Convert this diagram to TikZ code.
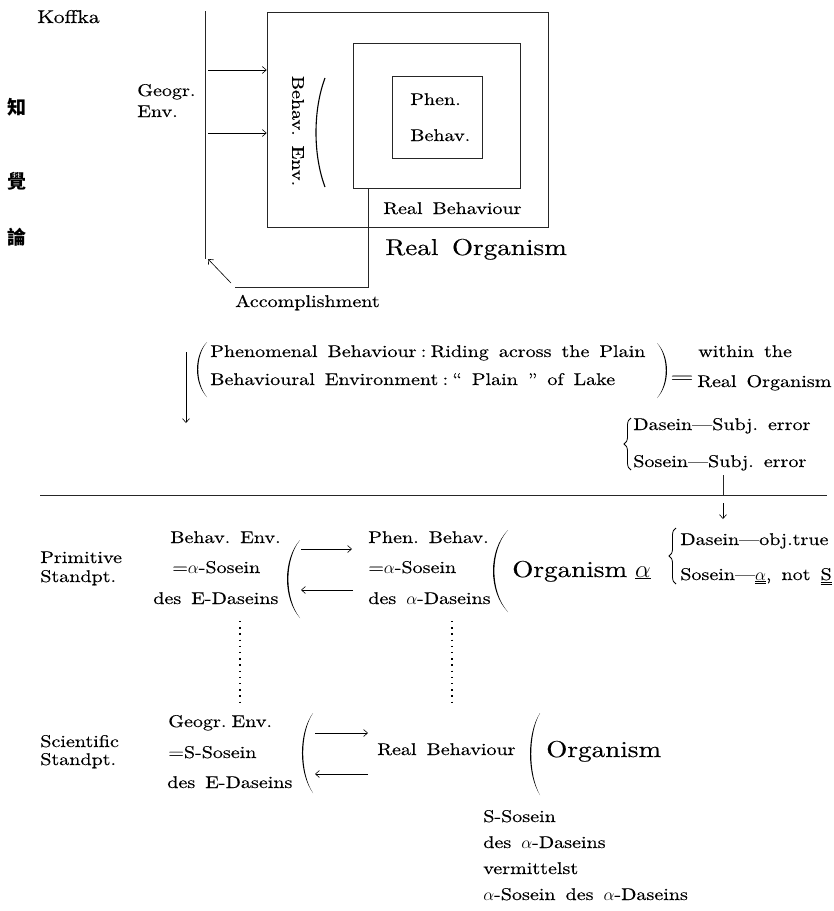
\documentclass[tikz,border=0pt]{standalone}
\usepackage{fontspec}
\usepackage{graphicx}
\setmainfont{lmroman10-regular}[Extension=.otf, FakeStretch=1.18, WordSpace=1.5, FakeBold=0.3]
\newfontfamily\cjk{Noto Sans CJK TC}
\usetikzlibrary{arrows.meta,decorations.pathreplacing}
% tapered parenthesis: x of ends, top y, bottom y, control x, inner offset
\newcommand{\mypar}[5]{\fill (#1,#2) .. controls (#4,{#2+0.25*(#3-#2)}) and (#4,{#3-0.25*(#3-#2)}) .. (#1,#3) .. controls ({#4+#5},{#3-0.25*(#3-#2)}) and ({#4+#5},{#2+0.25*(#3-#2)}) .. (#1,#2) -- cycle;}
\begin{document}
\begin{tikzpicture}[x=1pt,y=-1pt,
  line width=0.6pt,
  txt/.style={inner sep=0pt, anchor=base west, font=\fontsize{17}{20}\selectfont},
  big/.style={inner sep=0pt, anchor=base west, font=\fontsize{23}{26}\selectfont},
  kanji/.style={inner sep=0pt, anchor=center, font=\cjk\bfseries\fontsize{19}{22}\selectfont},
  arr/.style={-{Straight Barb[length=4pt,width=7pt]}, line width=0.6pt},
  rule/.style={line width=0.6pt, black!85},
  dots/.style={line width=1.3pt, dash pattern=on 1.3pt off 4.9pt},
  brc/.style={decorate, decoration={brace, amplitude=7pt}, line width=0.8pt}]
\useasboundingbox (0,0) rectangle (834,911);
\fill[white] (0,0) rectangle (834,911);

% ---------- top diagram ----------
\node[txt, font=\fontsize{18.5}{21}\selectfont] (koffka) at (37,23) {Koffka};
\node[kanji] (k1) at (17,107) {知};
\node[kanji] (k2) at (17,181) {覺};
\node[kanji] (k3) at (17,237) {論};

\coordinate (vtop) at (205,11);
\coordinate (vbot) at (205,259);
\draw[rule] (vtop) -- (vbot);

\node[txt] (geogr) at (137,96) {Geogr.};
\node[txt] (env) at (137,117) {Env.};

\node[draw, rule, minimum width=281pt, minimum height=215pt, inner sep=0pt] (outer) at (407.5,120) {};
\node[draw, rule, minimum width=167pt, minimum height=145pt, inner sep=0pt] (middle) at (436.5,116) {};
\node[draw, rule, minimum width=90pt, minimum height=82pt, inner sep=0pt] (inner) at (437,117) {};

\coordinate (a1s) at (208,70);
\coordinate (a2s) at (208,133);
\draw[arr] (a1s) -- (a1s -| outer.west);
\draw[arr] (a2s) -- (a2s -| outer.west);

\node[txt] (phen) at (410,105) {Phen.};
\node[txt] (behav) at (410,141) {Behav.};

\node[txt, anchor=center, rotate=-90] (behenv) at (298,131) {Behav.\ Env.};
\coordinate (arcT) at (325,78);
\coordinate (arcB) at (325,187);
\draw[line width=1.1pt] (arcT) .. controls (313,110) and (313,155) .. (arcB);

\node[txt] (realbeh) at (383,214) {Real Behaviour};
\node[big] (realorg) at (385,255) {Real Organism};

\coordinate (rbtop) at (middle.south -| 368,0);
\coordinate (corner) at (368,287);
\coordinate (hstart) at (235,287);
\draw[rule] (rbtop) -- (corner) -- (hstart);
\coordinate (acctail) at (231,283);
\coordinate (acchead) at (208,259);
\draw[arr] (acctail) -- (acchead);
\node[txt] (accomp) at (235,307) {Accomplishment};

% ---------- middle ----------
\coordinate (dtop) at (186,352);
\coordinate (dbot) at (186,423);
\draw[arr] (dtop) -- (dbot);

\mypar{207}{342}{397}{193.7}{1.6}
\node[txt] (phenom) at (210,357) {Phenomenal Behaviour\hspace{0.25em}:\hspace{0.25em}Riding across the Plain};
\node[txt] (behenvl) at (210,385) {Behavioural Environment\hspace{0.25em}:\hspace{0.25em}“ Plain ” of Lake};
\mypar{657}{343}{398}{670.3}{-1.6}
\node[txt] (eq) at (670,382) {\scalebox{1.5}[1]{=}};
\node[txt] (within) at (698,357) {within the};
\node[txt] (realorg2) at (697,387) {Real Organism};

\draw[brc] (631,470) -- (631,418);
\node[txt] (das1) at (633,430) {Dasein—Subj.\ error};
\node[txt] (sos1) at (633,467) {Sosein—Subj.\ error};

\coordinate (vs) at (723,475);
\coordinate (hl) at (40,495);
\coordinate (hr) at (827,495);
\draw[rule] (hl) -- (hr);
\draw[rule] (vs) -- (vs |- hl);
\coordinate (d2t) at (723,503);
\coordinate (d2b) at (723,519);
\draw[arr] (d2t) -- (d2b);

% ---------- primitive standpoint ----------
\node[txt] (prim) at (40,563) {Primitive};
\node[txt] (stand1) at (40,582) {Standpt.};

\node[txt] (be1) at (170,543) {Behav.\ Env.};
\node[txt] (be2) at (172,573) {=$\alpha$-Sosein};
\node[txt] (be3) at (153,604) {des E-Daseins};
\mypar{300}{540}{618}{282.7}{1.8}

\coordinate (r1a) at (301,549);
\coordinate (r1b) at (352,549);
\coordinate (l1a) at (353,590);
\coordinate (l1b) at (301,590);
\draw[arr] (r1a) -- (r1b);
\draw[arr] (l1a) -- (l1b);

\node[txt] (pb1) at (368,543) {Phen.\ Behav.};
\node[txt] (pb2) at (368,573) {=$\alpha$-Sosein};
\node[txt] (pb3) at (368,604) {des $\alpha$-Daseins};
\mypar{508}{530}{612}{488}{1.8}

\node[big] (org1) at (512,577) {Organism\hspace{0.35em}$\underline{\alpha}$};
\draw[brc] (676,584) -- (676,528);
\node[txt] (das2) at (680,545) {Dasein—obj.true};
\node[txt] (sos2) at (680,580) {Sosein—$\underline{\underline{\alpha}}$, not \underline{\underline{S}}};

\coordinate (dot1t) at (240,621);
\coordinate (dot1b) at (240,703);
\coordinate (dot2t) at (452,621);
\coordinate (dot2b) at (452,703);
\draw[dots] (dot1t) -- (dot1b);
\draw[dots] (dot2t) -- (dot2b);

% ---------- scientific standpoint ----------
\node[txt] (sci) at (40,747) {Scientific};
\node[txt] (stand2) at (40,765) {Standpt.};

\node[txt] (ge1) at (168,727) {Geogr.\hspace{0.3em}Env.};
\node[txt] (ge2) at (168,758) {=S-Sosein};
\node[txt] (ge3) at (167,788) {des E-Daseins};
\mypar{313}{713}{793}{298.3}{1.6}

\coordinate (r2a) at (315,733);
\coordinate (r2b) at (368,733);
\coordinate (l2a) at (368,774);
\coordinate (l2b) at (315,774);
\draw[arr] (r2a) -- (r2b);
\draw[arr] (l2a) -- (l2b);

\node[txt] (rb2) at (377,755) {Real Behaviour};
\mypar{540}{713}{795}{526.7}{1.6}
\node[big] (org2) at (546,757) {Organism};

\node[txt] (ss1) at (483,822) {S-Sosein};
\node[txt] (ss2) at (483,848) {des $\alpha$-Daseins};
\node[txt] (ss3) at (483,874) {vermittelst};
\node[txt] (ss4) at (483,900) {$\alpha$-Sosein des $\alpha$-Daseins};
\end{tikzpicture}
\end{document}
